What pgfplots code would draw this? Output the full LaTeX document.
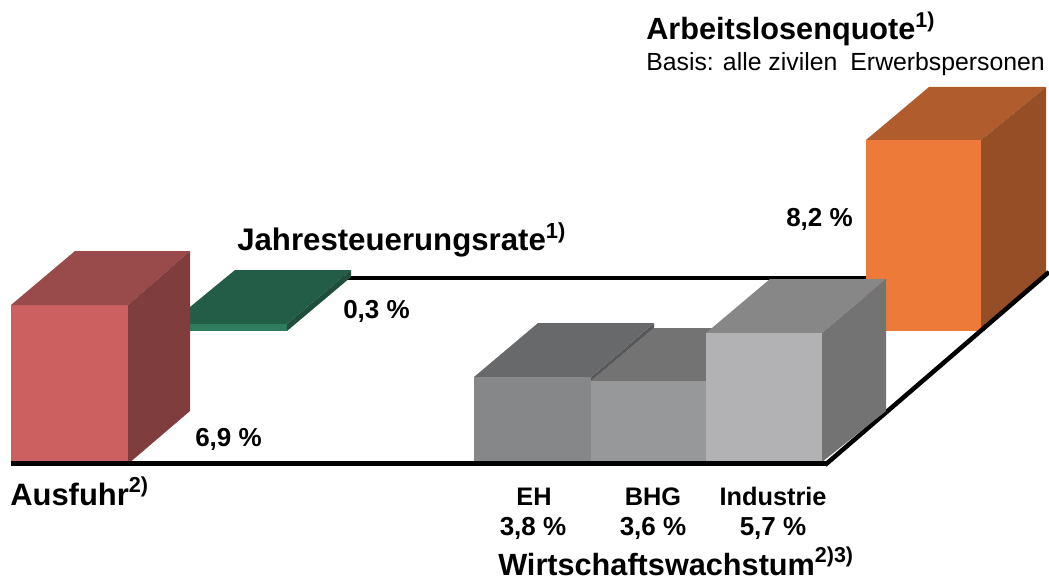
\documentclass[border=0pt]{standalone}
\usepackage{pgfplots}
\pgfplotsset{compat=1.18}
\usepackage{fontspec}
\setmainfont{Liberation Sans}
\definecolor{rf}{HTML}{CC6060}\definecolor{rt}{HTML}{994A4A}\definecolor{rs}{HTML}{803D3D}
\definecolor{gf}{HTML}{2F7C5F}\definecolor{gt}{HTML}{245D47}\definecolor{gs}{HTML}{1F4F3C}
\definecolor{of}{HTML}{EE7A3A}\definecolor{ot}{HTML}{B05C2C}\definecolor{os}{HTML}{964E27}
\definecolor{ef}{HTML}{868788}\definecolor{et}{HTML}{68696A}\definecolor{ee}{HTML}{58585A}
\definecolor{bf}{HTML}{97989A}\definecolor{bt}{HTML}{737374}
\definecolor{if}{HTML}{B2B2B4}\definecolor{it}{HTML}{878788}\definecolor{is}{HTML}{737374}
\newcommand{\lab}[3]{\node[anchor=base west,inner sep=0pt,font=\bfseries\fontsize{#3}{#3}\selectfont] at (axis cs:#1) {#2};}
\newcommand{\clab}[3]{\node[anchor=base,inner sep=0pt,font=\bfseries\fontsize{#3}{#3}\selectfont] at (axis cs:#1) {#2};}
\begin{document}
\begin{tikzpicture}
\path[use as bounding box] (0,0) rectangle (786.75pt,435.75pt);
\begin{axis}[at={(0,0)},anchor=south west,width=786.75pt,height=435.75pt,scale only axis,hide axis,clip=false,
  xmin=0,xmax=1049,ymin=0,ymax=581,y dir=reverse]
% back line
\addplot[black,line width=3pt] coordinates {(340,277.5) (870,277.5)};
% orange
\addplot[fill=of,draw=none] coordinates {(866,140) (981,140) (981,331) (866,331)} --cycle;
\addplot[fill=ot,draw=none] coordinates {(866,140) (929,87) (1046,87) (981,140)} --cycle;
\addplot[fill=os,draw=none] coordinates {(981,140) (1046,87) (1046,277) (981,331)} --cycle;
% floor right line
\addplot[black,line width=3.4pt] coordinates {(825,465) (1049,272)};
% green
\addplot[fill=gt,draw=none] coordinates {(190,307) (235,270) (351,270) (287,324) (190,324)} --cycle;
\addplot[fill=gf,draw=none] coordinates {(190,324) (287,324) (287,331) (190,331)} --cycle;
\addplot[fill=gs,draw=none] coordinates {(287,324) (351,270) (351,277) (287,331)} --cycle;
% red
\addplot[fill=rf,draw=none] coordinates {(11,305) (128,305) (128,464) (11,464)} --cycle;
\addplot[fill=rt,draw=none] coordinates {(11,305) (75,251) (190,251) (128,305)} --cycle;
\addplot[fill=rs,draw=none] coordinates {(128,305) (190,251) (190,411) (128,464)} --cycle;
% greys
\addplot[fill=bt,draw=none] coordinates {(591,381) (654,328) (730,328) (730,381)} --cycle;
\addplot[fill=ee,draw=none] coordinates {(591,381) (654,328) (654,323) (591,377)} --cycle;
\addplot[fill=et,draw=none] coordinates {(474,377) (538,323) (654,323) (591,377)} --cycle;
\addplot[fill=ef,draw=none] coordinates {(474,377) (591,377) (591,462) (474,462)} --cycle;
\addplot[fill=bf,draw=none] coordinates {(591,381) (706,381) (706,462) (591,462)} --cycle;
\addplot[fill=it,draw=none] coordinates {(706,333) (770,279) (886,279) (822,333)} --cycle;
\addplot[fill=is,draw=none] coordinates {(822,333) (886,279) (886,411) (822,462)} --cycle;
\addplot[fill=if,draw=none] coordinates {(706,333) (822,333) (822,462) (706,462)} --cycle;
% front line
\addplot[black,line width=3.7pt] coordinates {(11,463.5) (826,463.5)};
% texts
\lab{646,39.5}{Arbeitslosenquote\textsuperscript{1)}}{23}
\node[anchor=base west,inner sep=0pt,font=\fontsize{18.6}{18.6}\selectfont] at (axis cs:646,70.5) {Basis: alle zivilen\hspace{0.25em} Erwerbspersonen};
\lab{237,250.5}{Jahresteuerungsrate\textsuperscript{1)}}{23.4}
\lab{786,226}{8,2 \%}{19.5}
\lab{343,318.5}{0,3 \%}{19.5}
\lab{195,446.5}{6,9 \%}{19.5}
\lab{10,505}{Ausfuhr\textsuperscript{2)}}{23.2}
\clab{534,505}{EH}{19}
\clab{533,535}{3,8 \%}{19.5}
\clab{653,505}{BHG}{19}
\clab{653,535}{3,6 \%}{19.5}
\clab{773,505}{Industrie}{19}
\clab{773,535}{5,7 \%}{19.5}
\lab{498,575}{Wirtschaftswachstum\textsuperscript{2)3)}}{23}
\end{axis}
\end{tikzpicture}
\end{document}
